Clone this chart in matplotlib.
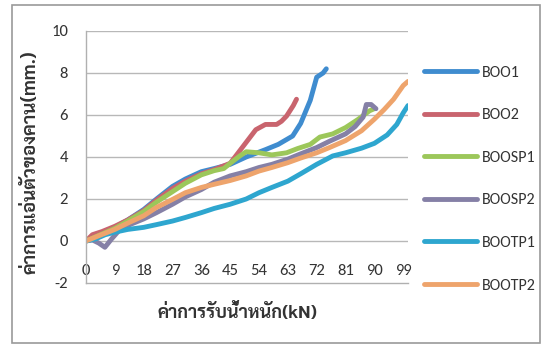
import matplotlib
matplotlib.use("Agg")
import matplotlib.pyplot as plt
from matplotlib.patches import Rectangle

# Load (kN) vs. beam deflection (mm.) for each specimen
boo1_load = [0, 2, 5, 9, 13, 18, 22, 27, 31, 36, 40, 45, 50, 56, 60, 64.5, 67, 70, 72, 74, 75]
boo1_defl = [0, 0.15, 0.35, 0.65, 1.0, 1.5, 2.0, 2.6, 2.95, 3.3, 3.45, 3.65, 4.0, 4.35, 4.6, 5.0, 5.6, 6.7, 7.8, 8.0, 8.2]

boo2_load = [0, 2, 5, 9, 13, 18, 22, 27, 31, 36, 40, 45, 47, 50, 53, 56, 59.5, 61, 62.6, 64.7, 65.7]
boo2_defl = [0, 0.3, 0.45, 0.7, 1.0, 1.45, 1.95, 2.5, 2.85, 3.2, 3.4, 3.7, 4.1, 4.7, 5.3, 5.55, 5.55, 5.7, 5.95, 6.45, 6.75]

boosp1_load = [0, 3, 6, 9, 13, 18, 22, 27, 31, 36, 40, 43, 45, 48, 50, 54, 58, 62.6, 66, 70, 73, 77, 81, 85, 88.5, 90]
boosp1_defl = [0, 0.2, 0.4, 0.6, 0.95, 1.4, 1.85, 2.35, 2.75, 3.15, 3.35, 3.45, 3.7, 4.05, 4.25, 4.2, 4.1, 4.2, 4.4, 4.6, 4.95, 5.1, 5.4, 5.8, 6.2, 6.3]

boosp2_load = [0, 2, 4, 5.9, 8, 10.6, 14, 18, 22, 27, 31, 36, 40, 45, 50, 54, 58, 63, 67, 72, 76, 81, 84, 86.5, 87.5, 89, 90.5]
boosp2_defl = [0, 0.05, -0.1, -0.3, 0.1, 0.55, 0.8, 1.05, 1.35, 1.75, 2.1, 2.45, 2.8, 3.1, 3.3, 3.5, 3.65, 3.9, 4.15, 4.45, 4.75, 5.1, 5.45, 5.9, 6.5, 6.5, 6.3]

bootp1_load = [0, 3, 6, 9, 13, 18, 22, 27, 31, 36, 40, 45, 50, 54, 58, 63, 67, 72, 77, 81, 86, 90, 94, 97, 99, 100.5]
bootp1_defl = [0, 0.1, 0.3, 0.42, 0.55, 0.65, 0.78, 0.95, 1.12, 1.35, 1.55, 1.75, 2.0, 2.3, 2.55, 2.85, 3.2, 3.65, 4.05, 4.2, 4.42, 4.65, 5.05, 5.55, 6.1, 6.45]

bootp2_load = [0, 4, 9, 13, 18, 22, 27, 31, 36, 40, 45, 50, 54, 58, 63, 67, 72, 76, 81, 86, 90, 93, 96, 99, 100.5]
bootp2_defl = [0, 0.25, 0.55, 0.85, 1.2, 1.6, 1.98, 2.3, 2.55, 2.7, 2.88, 3.1, 3.33, 3.5, 3.73, 3.95, 4.2, 4.45, 4.78, 5.25, 5.8, 6.25, 6.75, 7.4, 7.6]

series_names = ["BOO1", "BOO2", "BOOSP1", "BOOSP2", "BOOTP1", "BOOTP2"]
x_ticks = [0, 9, 18, 27, 36, 45, 54, 63, 72, 81, 90, 99]
y_ticks = [-2, 0, 2, 4, 6, 8, 10]

series = [
    (boo1_load, boo1_defl, "#3f8ccf"),
    (boo2_load, boo2_defl, "#c9646e"),
    (boosp1_load, boosp1_defl, "#9cc75a"),
    (boosp2_load, boosp2_defl, "#8580a6"),
    (bootp1_load, bootp1_defl, "#2ea6cf"),
    (bootp2_load, bootp2_defl, "#eea46c"),
]

latin = ["Carlito", "Source Sans 3", "Source Sans Pro", "Lato", "DejaVu Sans"]
thai = ["Sarabun", "Noto Sans Thai Looped", "Noto Sans Thai", "Anuphan", "DejaVu Sans"]

fig = plt.figure(figsize=(5.48, 3.5), dpi=100)
ax = fig.add_axes([86 / 548, 67 / 350, 322 / 548, 252 / 350])

for (xs, ys, c), name in zip(series, series_names):
    ax.plot(xs, ys, color=c, lw=3.5, solid_capstyle="round", solid_joinstyle="round", label=name)

ax.set_xlim(0, 100.5)
ax.set_ylim(-2, 10)
ax.set_yticks(y_ticks)
ax.set_xticks(x_ticks)
ax.set_xticklabels([str(t) for t in x_ticks], family=latin, fontsize=12, color="#333333")
ax.set_yticklabels([str(t) for t in y_ticks], family=latin, fontsize=12, color="#333333")
ax.tick_params(axis="x", length=0, pad=-14)
ax.tick_params(axis="y", length=0, pad=13)

for v in [0, 2, 4, 6, 8, 10]:
    ax.axhline(v, color="#b8b8b8", lw=1.0, zorder=0.5)
for side in ["top", "right"]:
    ax.spines[side].set_visible(False)
for side in ["left", "bottom"]:
    ax.spines[side].set_color("#b0b0b0")
    ax.spines[side].set_linewidth(1.0)

ax.set_xlabel("ค่าการรับน้ำหนัก(kN)", family=thai, fontsize=13, fontweight="bold", color="#333333")
ax.set_ylabel("ค่าการแอ่นตัวของคาน(mm.)", family=thai, fontsize=13.5, fontweight="bold", color="#333333")
ax.xaxis.set_label_coords(0.469, -0.08)
ax.yaxis.set_label_coords(-0.143, 0.48)

leg = ax.legend(loc="upper left", bbox_to_anchor=(418 / 548, 1 - 59 / 350), bbox_transform=fig.transFigure,
                frameon=False, prop={"family": latin, "size": 11.5}, handlelength=3.3,
                handletextpad=0.3, labelspacing=1.78, borderaxespad=0)
for t in leg.get_texts():
    t.set_color("#333333")

fig.add_artist(Rectangle((12 / 548, 7 / 350), 528 / 548, 338 / 350, transform=fig.transFigure,
                         fill=False, edgecolor="#9a9a9a", lw=1.2))

fig.savefig("out.png", dpi=100)
